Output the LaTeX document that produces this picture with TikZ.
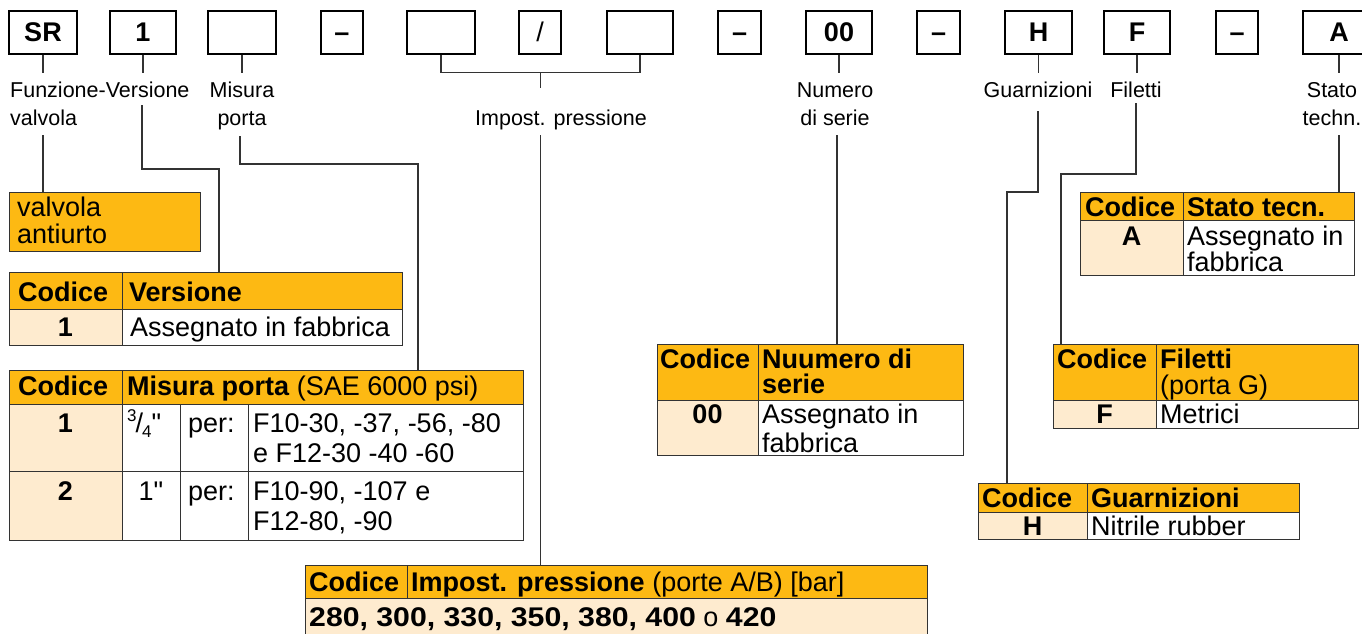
\documentclass[tikz,border=0pt]{standalone}
\usepackage{fontspec}
\setmainfont{Liberation Sans}
\usepackage{graphicx}
\definecolor{org}{HTML}{FDB913}
\definecolor{lite}{HTML}{FEEBCF}
\definecolor{lnc}{HTML}{333333}
\newcommand\tabfont{\fontsize{27}{30}\selectfont}
\newcommand\labfont{\fontsize{21.5}{25}\selectfont}
\newcommand\smallfig{\fontsize{17}{17}\selectfont}
\begin{document}
\begin{tikzpicture}[x=1pt,y=-1pt,
 topbox/.style={draw=black, line width=1.3pt, minimum height=43pt, inner sep=0pt, text height=19pt, text depth=0pt, font=\tabfont\bfseries},
 conn/.style={draw=lnc, line width=1.3pt},
 cell/.style={draw=lnc, line width=1.3pt, anchor=north west, inner sep=0pt},
 txt/.style={anchor=base west, inner sep=0pt, font=\tabfont},
 btxt/.style={anchor=base west, inner sep=0pt, font=\tabfont\bfseries},
 ctxt/.style={anchor=base, inner sep=0pt, font=\tabfont\bfseries},
 lab/.style={anchor=base, inner sep=0pt, font=\labfont},
 labw/.style={anchor=base west, inner sep=0pt, font=\labfont},
]
\useasboundingbox (0,0) rectangle (1362,634);
\fill[white] (0,0) rectangle (1362,634);

% ---------- top code boxes ----------
\node[topbox, minimum width=68pt] (bSR) at (43,32.5) {SR};
\node[topbox, minimum width=66pt] (bV)  at (143,32.5) {1};
\node[topbox, minimum width=68pt] (bM)  at (242,32.5) {};
\node[topbox, minimum width=42pt] (bD1) at (342,32.5) {–};
\node[topbox, minimum width=68pt] (bP1) at (441,32.5) {};
\node[topbox, minimum width=42pt] (bSl) at (540,32.5) {\mdseries /};
\node[topbox, minimum width=66pt] (bP2) at (640,32.5) {};
\node[topbox, minimum width=43pt] (bD2) at (739.5,32.5) {–};
\node[topbox, minimum width=66pt] (bN)  at (839,32.5) {00};
\node[topbox, minimum width=43pt] (bD3) at (938.5,32.5) {–};
\node[topbox, minimum width=67pt] (bH)  at (1038.5,32.5) {H};
\node[topbox, minimum width=66pt] (bF)  at (1137,32.5) {F};
\node[topbox, minimum width=42pt] (bD4) at (1237,32.5) {–};
\node[topbox, minimum width=72pt] (bA)  at (1339,32.5) {A};

% ---------- ticks ----------
\draw[conn] (bSR.south) -- ++(0,18);
\draw[conn] (bV.south) -- ++(0,18);
\draw[conn] (bM.south) -- ++(0,18);
\draw[conn] (bP1.south) -- ++(0,18) -| (bP2.south);
\coordinate (kI) at (540.5,72);
\draw[conn] (kI) -- ++(0,16);
\draw[conn] (bN.south) -- ++(0,18);
\draw[conn] (bH.south) -- ++(0,18);
\draw[conn] (bF.south) -- ++(0,18);
\draw[conn] (bA.south) -- ++(0,18);

% ---------- labels ----------
\node[labw] (lFun) at (10,97) {Funzione-Versione};
\node[labw] (lVal) at (10,125) {valvola};
\node[lab] (lMis) at (242,97) {Misura};
\node[lab] (lPor) at (242,125) {porta};
\node[lab] (lImp) at (561,125) {Impost. pressione};
\node[lab] (lNum) at (835,97) {Numero};
\node[lab] (lSer) at (835,125) {di serie};
\node[lab] (lGua) at (1038,97) {Guarnizioni};
\node[lab] (lFil) at (1136,97) {Filetti};
\node[lab] (lSta) at (1332,97) {Stato};
\node[lab] (lTec) at (1332,125) {techn.};

% ---------- valvola antiurto ----------
\node[cell, fill=org, minimum width=191pt, minimum height=59pt] (vab) at (9,192) {};
\node[txt] (tva1) at (17,216) {valvola};
\node[txt] (tva2) at (17,243) {antiurto};

% ---------- Versione ----------
\node[cell, fill=org, minimum width=113pt, minimum height=37pt] (vh1) at (9,272) {};
\node[cell, fill=org, minimum width=280pt, minimum height=37pt] (vh2) at (122,272) {};
\node[cell, fill=lite, minimum width=113pt, minimum height=36pt] (vb1) at (9,309) {};
\node[cell, fill=white, minimum width=280pt, minimum height=36pt] (vb2) at (122,309) {};
\node[btxt] (tv1) at (18,301) {Codice};
\node[btxt] (tv2) at (129,301) {Versione};
\node[ctxt] (tv3) at (65.5,336) {1};
\node[txt] (tv4) at (130,336) {Assegnato in fabbrica};

% ---------- Misura porta ----------
\node[cell, fill=org, minimum width=113pt, minimum height=34pt] (mh1) at (9,370) {};
\node[cell, fill=org, minimum width=401pt, minimum height=34pt] (mh2) at (122,370) {};
\node[cell, fill=lite, minimum width=113pt, minimum height=67pt] (m11) at (9,404) {};
\node[cell, fill=white, minimum width=58pt, minimum height=67pt] (m12) at (122,404) {};
\node[cell, fill=white, minimum width=68pt, minimum height=67pt] (m13) at (180,404) {};
\node[cell, fill=white, minimum width=275pt, minimum height=67pt] (m14) at (248,404) {};
\node[cell, fill=lite, minimum width=113pt, minimum height=69pt] (m21) at (9,471) {};
\node[cell, fill=white, minimum width=58pt, minimum height=69pt] (m22) at (122,471) {};
\node[cell, fill=white, minimum width=68pt, minimum height=69pt] (m23) at (180,471) {};
\node[cell, fill=white, minimum width=275pt, minimum height=69pt] (m24) at (248,471) {};
\node[btxt] (tm1) at (18,395) {Codice};
\node[txt] (tm2) at (127,395) {\textbf{Misura porta} (SAE 6000 psi)};
\node[ctxt] (tm3) at (65.5,432) {1};
\node[txt] (tm4) at (127,432) {\raisebox{11pt}{\smallfig 3}\kern-1pt/\kern-1pt\raisebox{-5pt}{\smallfig 4}\textquotedbl};
\node[txt] (tm5) at (188,432) {per:};
\node[txt] (tm6) at (253,432) {F10-30, -37, -56, -80};
\node[txt] (tm7) at (253,462) {e F12-30 -40 -60};
\node[ctxt] (tm8) at (65.5,500) {2};
\node[txt, anchor=base] (tm9) at (151,500) {1\textquotedbl};
\node[txt] (tm10) at (188,500) {per:};
\node[txt] (tm11) at (253,500) {F10-90, -107 e};
\node[txt] (tm12) at (253,530) {F12-80, -90};

% ---------- Numero di serie ----------
\node[cell, fill=org, minimum width=101pt, minimum height=56pt] (nh1) at (657,344) {};
\node[cell, fill=org, minimum width=205pt, minimum height=56pt] (nh2) at (758,344) {};
\node[cell, fill=lite, minimum width=101pt, minimum height=55pt] (nb1) at (657,400) {};
\node[cell, fill=white, minimum width=205pt, minimum height=55pt] (nb2) at (758,400) {};
\node[btxt] (tn1) at (660,368) {Codice};
\node[btxt] (tn2) at (762,368) {Nuumero di};
\node[btxt] (tn3) at (762,393) {serie};
\node[ctxt] (tn4) at (707.5,423) {00};
\node[txt] (tn5) at (762,423) {Assegnato in};
\node[txt] (tn6) at (762,452) {fabbrica};

% ---------- Stato tecn. ----------
\node[cell, fill=org, minimum width=103pt, minimum height=28pt] (sh1) at (1080,192) {};
\node[cell, fill=org, minimum width=171pt, minimum height=28pt] (sh2) at (1183,192) {};
\node[cell, fill=lite, minimum width=103pt, minimum height=55pt] (sb1) at (1080,220) {};
\node[cell, fill=white, minimum width=171pt, minimum height=55pt] (sb2) at (1183,220) {};
\node[btxt] (ts1) at (1085,216) {Codice};
\node[btxt] (ts2) at (1187,216) {Stato tecn.};
\node[ctxt] (ts3) at (1131.5,245) {A};
\node[txt] (ts4) at (1187,245) {Assegnato in};
\node[txt] (ts5) at (1187,271) {fabbrica};

% ---------- Filetti ----------
\node[cell, fill=org, minimum width=103pt, minimum height=56pt] (fh1) at (1053,344) {};
\node[cell, fill=org, minimum width=202pt, minimum height=56pt] (fh2) at (1156,344) {};
\node[cell, fill=lite, minimum width=103pt, minimum height=28pt] (fb1) at (1053,400) {};
\node[cell, fill=white, minimum width=202pt, minimum height=28pt] (fb2) at (1156,400) {};
\node[btxt] (tf1) at (1057,368) {Codice};
\node[btxt] (tf2) at (1160,368) {Filetti};
\node[txt] (tf3) at (1160,394) {(porta G)};
\node[ctxt] (tf4) at (1104.5,423) {F};
\node[txt] (tf5) at (1160,423) {Metrici};

% ---------- Guarnizioni ----------
\node[cell, fill=org, minimum width=109pt, minimum height=29pt] (gh1) at (978,483) {};
\node[cell, fill=org, minimum width=212pt, minimum height=29pt] (gh2) at (1087,483) {};
\node[cell, fill=lite, minimum width=109pt, minimum height=27pt] (gb1) at (978,512) {};
\node[cell, fill=white, minimum width=212pt, minimum height=27pt] (gb2) at (1087,512) {};
\node[btxt] (tg1) at (982,507) {Codice};
\node[btxt] (tg2) at (1091,507) {Guarnizioni};
\node[ctxt] (tg3) at (1032.5,535) {H};
\node[txt] (tg4) at (1091,535) {Nitrile rubber};

% ---------- Impost. pressione ----------
\node[cell, fill=org, minimum width=102pt, minimum height=33pt] (ih1) at (305,565) {};
\node[cell, fill=org, minimum width=520pt, minimum height=33pt] (ih2) at (407,565) {};
\node[cell, fill=lite, minimum width=622pt, minimum height=50pt] (ib) at (305,598) {};
\node[btxt] (ti1) at (309,591) {Codice};
\node[txt] (ti2) at (411,591) {\textbf{Impost. pressione} (porte A/B) [bar]};
\node[txt] (ti3) at (309,626) {\scalebox{1.12}[1]{\textbf{280, 300, 330, 350, 380, 400}} o \scalebox{1.12}[1]{\textbf{420}}};

% ---------- connectors to tables ----------
\coordinate (kSR) at (43,135);
\draw[conn] (kSR) -- (kSR |- vab.north);
\coordinate (kV) at (142,105); \coordinate (kV2) at (219,169);
\draw[conn] (kV) |- (kV2) -- (kV2 |- vh2.north);
\coordinate (kM) at (240,136); \coordinate (kM2) at (418,164);
\draw[conn] (kM) |- (kM2) -- (kM2 |- mh2.north);
\coordinate (kI2) at (540.5,135);
\draw[conn] (kI2) -- (kI2 |- ih2.north);
\coordinate (kN) at (837,135);
\draw[conn] (kN) -- (kN |- nh2.north);
\coordinate (kG) at (1038,111); \coordinate (kG2) at (1007,192);
\draw[conn] (kG) |- (kG2) -- (kG2 |- gh1.north);
\coordinate (kF) at (1136,103); \coordinate (kF2) at (1061,174);
\draw[conn] (kF) |- (kF2) -- (kF2 |- fh1.north);
\coordinate (kS) at (1339,135);
\draw[conn] (kS) -- (kS |- sh2.north);
\end{tikzpicture}
\end{document}
